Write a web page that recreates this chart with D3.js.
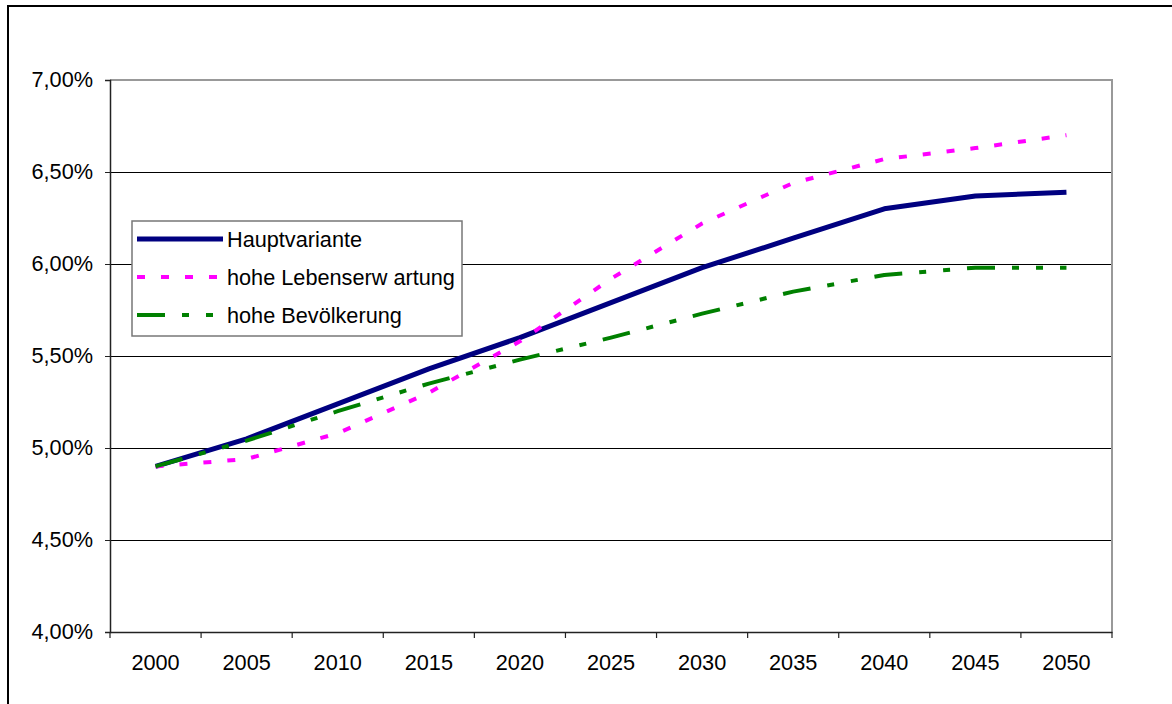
<!DOCTYPE html>
<html>
<head>
<meta charset="utf-8">
<script src="https://cdn.jsdelivr.net/npm/d3@7"></script>
<style>
  html, body { margin: 0; padding: 0; background: #fff; }
  svg { display: block; font-family: Arial, "Liberation Sans", sans-serif; }
</style>
</head>
<body>
<svg id="chart" width="1172" height="704"></svg>
<script>
// Jahre (Kategorien)
const years = ["2000", "2005", "2010", "2015", "2020", "2025", "2030", "2035", "2040", "2045", "2050"];

// Anteile in Prozent je Variante
const hauptvariante = [4.90, 5.05, 5.24, 5.43, 5.60, 5.79, 5.98, 6.14, 6.30, 6.37, 6.39];
const hoheLebenserwartung = [4.90, 4.94, 5.08, 5.30, 5.58, 5.92, 6.22, 6.44, 6.57, 6.63, 6.70];
const hoheBevoelkerung = [4.90, 5.04, 5.20, 5.35, 5.48, 5.60, 5.73, 5.85, 5.94, 5.98, 5.98];

// y-Achse
const yTicks = [4.0, 4.5, 5.0, 5.5, 6.0, 6.5, 7.0];

const seriesNames = ["Hauptvariante", "hohe Lebenserw artung", "hohe Bevölkerung"];

const styles = [
  { color: "#000080", width: 5, dash: null },
  { color: "#FF00FF", width: 4, dash: "8,16" },
  { color: "#008000", width: 4, dash: "28,17,7,17,7,17" }
];
const seriesValues = [hauptvariante, hoheLebenserwartung, hoheBevoelkerung];

const FONT = 21.7;

const svg = d3.select("#chart");

// Außenrahmen
svg.append("rect")
  .attr("x", 8).attr("y", 6)
  .attr("width", 1300).attr("height", 800)
  .attr("fill", "none").attr("stroke", "#000").attr("stroke-width", 2);

const plot = { left: 110, right: 1112, top: 80, bottom: 632 };

const x = d3.scaleBand().domain(years).range([plot.left, plot.right]).padding(0);
const y = d3.scaleLinear().domain([4, 7]).range([plot.bottom, plot.top]);

const fmt = v => d3.format(".2f")(v).replace(".", ",") + "%";

// Gitterlinien
svg.append("g")
  .selectAll("line")
  .data(yTicks.filter(v => v > 4 && v < 7))
  .join("line")
  .attr("x1", plot.left).attr("x2", plot.right)
  .attr("y1", d => y(d) + 0.5).attr("y2", d => y(d) + 0.5)
  .attr("stroke", "#000").attr("stroke-width", 1.3)
  .attr("shape-rendering", "crispEdges");

// Rahmen der Zeichenfläche oben und rechts
svg.append("path")
  .attr("d", `M${plot.left},${y(7)}H${plot.right}V${plot.bottom}`)
  .attr("fill", "none").attr("stroke", "#999").attr("stroke-width", 2);

// y-Achse
const yAxis = svg.append("g")
  .attr("transform", `translate(${plot.left},0)`)
  .call(d3.axisLeft(y).tickValues(yTicks).tickFormat(fmt).tickSize(5).tickPadding(12));
yAxis.select(".domain").attr("stroke", "#222").attr("stroke-width", 1.5);
yAxis.selectAll(".tick line").attr("stroke", "#222");
yAxis.selectAll(".tick text")
  .attr("font-size", FONT).attr("fill", "#000")
  .attr("font-family", "Arial, 'Liberation Sans', sans-serif");

// x-Achse
const xAxis = svg.append("g")
  .attr("transform", `translate(0,${plot.bottom})`)
  .call(d3.axisBottom(x).tickSize(0).tickPadding(23));
xAxis.select(".domain").attr("stroke", "#222").attr("stroke-width", 1.5);
xAxis.selectAll(".tick text")
  .attr("font-size", FONT).attr("fill", "#000")
  .attr("font-family", "Arial, 'Liberation Sans', sans-serif");

// Teilstriche an den Kategoriegrenzen
const bounds = years.map(d => x(d)).concat([x(years[years.length - 1]) + x.bandwidth()]);
svg.append("g")
  .selectAll("line")
  .data(bounds)
  .join("line")
  .attr("x1", d => d).attr("x2", d => d)
  .attr("y1", plot.bottom).attr("y2", plot.bottom + 6)
  .attr("stroke", "#222").attr("stroke-width", 1.2);

// Linien
const line = d3.line()
  .x((d, i) => x(years[i]) + x.bandwidth() / 2)
  .y(d => y(d));

seriesValues.forEach((vals, k) => {
  const s = styles[k];
  svg.append("path")
    .datum(vals)
    .attr("d", line)
    .attr("fill", "none")
    .attr("stroke", s.color)
    .attr("stroke-width", s.width)
    .attr("stroke-dasharray", s.dash)
    .attr("stroke-linejoin", "round");
});

// Legende
const lg = svg.append("g");
lg.append("rect")
  .attr("x", 132).attr("y", 221)
  .attr("width", 330).attr("height", 115)
  .attr("fill", "#fff").attr("stroke", "#777").attr("stroke-width", 1.5);

const rowY = [239, 277, 315];
seriesNames.forEach((name, k) => {
  const s = styles[k];
  lg.append("line")
    .attr("x1", 137).attr("x2", 223)
    .attr("y1", rowY[k]).attr("y2", rowY[k])
    .attr("stroke", s.color)
    .attr("stroke-width", s.width)
    .attr("stroke-dasharray", s.dash);
  lg.append("text")
    .attr("x", 227).attr("y", rowY[k] + 8)
    .attr("font-size", FONT)
    .attr("fill", "#000")
    .text(name);
});
</script>
</body>
</html>
